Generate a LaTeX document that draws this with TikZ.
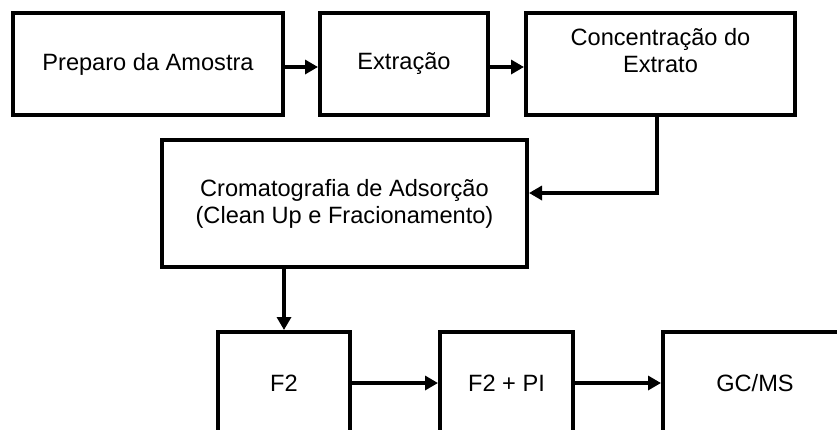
\documentclass[tikz,border=0pt]{standalone}
\usepackage{fontspec}
\setmainfont{Liberation Sans}
\usetikzlibrary{arrows.meta}
\tikzset{
  box/.style={draw=black, line width=4pt, fill=white, minimum height=102pt, inner sep=0pt, align=center, font=\fontsize{23.6}{27}\selectfont},
  lbl/.style={inner sep=0pt, align=center, font=\fontsize{23.6}{27}\selectfont},
  arr/.style={draw=black, line width=3.5pt, -{Triangle[length=13pt,width=14pt]}}
}
\begin{document}
\begin{tikzpicture}[x=1pt,y=-1pt]
\useasboundingbox (0,0) rectangle (837,429);
\clip (0,0) rectangle (837,429);
\node[box, minimum width=270pt] (a) at (148,64) {Preparo da Amostra};
\node[box, minimum width=168pt] (b) at (404,64) {Extração};
\node[box, minimum width=269pt] (c) at (660.5,64) {};
\node[lbl, anchor=north] (ct) at (660.5,28) {Concentração do\\Extrato};
\node[box, minimum width=365pt, minimum height=127pt] (d) at (344.5,203.5) {Cromatografia de Adsorção\\(Clean Up e Fracionamento)};
\node[box, minimum width=132pt] (e) at (284,383) {F2};
\node[box, minimum width=133pt] (f) at (506.5,383) {F2 + PI};
\node[box, minimum width=184pt] (g) at (755,383) {GC/MS};
\draw[arr] ([yshift=-3pt]a.east) -- ([yshift=-3pt]b.west);
\draw[arr] ([yshift=-3pt]b.east) -- ([yshift=-3pt]c.west);
\draw[arr] ([xshift=-3.5pt]c.south) |- ([yshift=10.5pt]d.east);
\draw[arr] (d.south -| e.north) -- (e.north);
\draw[arr] (e.east) -- (f.west);
\draw[arr] (f.east) -- (g.west);
\end{tikzpicture}
\end{document}
